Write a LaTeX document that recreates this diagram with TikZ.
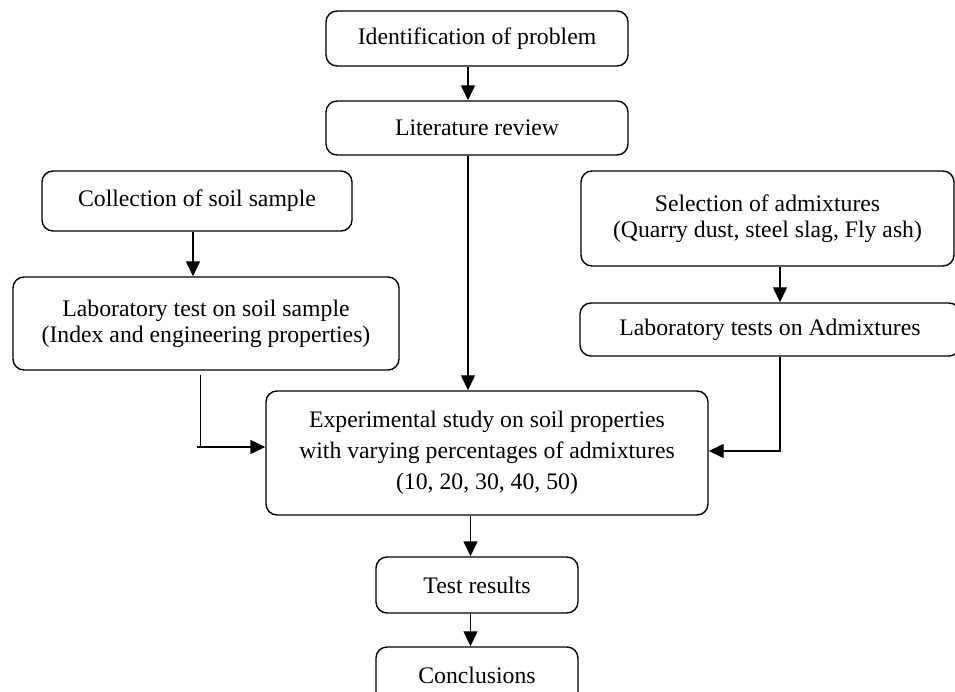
\documentclass[tikz,border=0pt]{standalone}
\usepackage{fontspec}
\setmainfont{Liberation Serif}
\usetikzlibrary{arrows.meta}
\tikzset{
  stage/.style={draw, line width=0.8pt, rounded corners=2.2mm, align=center,
    inner sep=0pt, font=\fontsize{13.5}{14.8}\selectfont},
  flow/.style={line width=0.8pt, -{Triangle[length=3mm, width=2.8mm]}},
  link/.style={line width=0.8pt}
}
\begin{document}
\begin{tikzpicture}
  \useasboundingbox (0,0) rectangle (19.1,-13.84);
  % middle column
  \node[stage, minimum width=6.04cm, minimum height=1.1cm] (ident) at (9.54,-0.77) {Identification of problem};
  \node[stage, minimum width=6.04cm, minimum height=1.08cm] (lit) at (9.54,-2.56) {Literature review};
  % soil side
  \node[stage, minimum width=6.2cm, minimum height=1.2cm] (coll) at (3.94,-4.02) {Collection of soil sample};
  \node[stage, minimum width=7.72cm, minimum height=1.86cm] (labsoil) at (4.12,-6.47)
    {Laboratory test on soil sample\\(Index and engineering properties)};
  % admixture side
  \node[stage, minimum width=7.46cm, minimum height=1.9cm] (sel) at (15.35,-4.37)
    {Selection of admixtures\\(Quarry dust, steel slag, Fly ash)};
  \node[stage, minimum width=7.6cm, minimum height=1.06cm] (labadm) at (15.4,-6.59) {Laboratory tests on Admixtures};
  % study and results
  \node[stage, minimum width=8.84cm, minimum height=2.48cm, font=\fontsize{13.5}{17.8}\selectfont] (exp) at (9.74,-9.06)
    {Experimental study on soil properties\\with varying percentages of admixtures\\(10, 20, 30, 40, 50)};
  \node[stage, minimum width=4.04cm, minimum height=1.12cm] (test) at (9.54,-11.7) {Test results};
  \node[stage, minimum width=4.04cm, minimum height=1.12cm] (concl) at (9.54,-13.5) {Conclusions};
  % connectors
  \coordinate (topline) at (9.36,0);
  \coordinate (soilbend) at (4.01,-8.94);
  \coordinate (admline) at (15.6,0);
  \coordinate (endline) at (9.41,0);
  \draw[flow] (ident.south -| topline) -- (lit.north -| topline);
  \draw[flow] (lit.south -| topline) -- (exp.north -| topline);
  \draw[flow] ([xshift=-0.08cm]coll.south) -- ([xshift=-0.08cm]coll.south |- labsoil.north);
  \draw[link] ([yshift=-0.08cm]labsoil.south -| soilbend) -- (soilbend);
  \draw[flow] ([xshift=-0.08cm]soilbend) -- (soilbend -| exp.west);
  \draw[flow] (sel.south -| admline) -- (labadm.north -| admline);
  \draw[flow] (labadm.south -| admline) |- ([yshift=0.04cm]exp.east);
  \draw[flow] (exp.south -| endline) -- (test.north -| endline);
  \draw[flow] (test.south -| endline) -- (concl.north -| endline);
\end{tikzpicture}
\end{document}
